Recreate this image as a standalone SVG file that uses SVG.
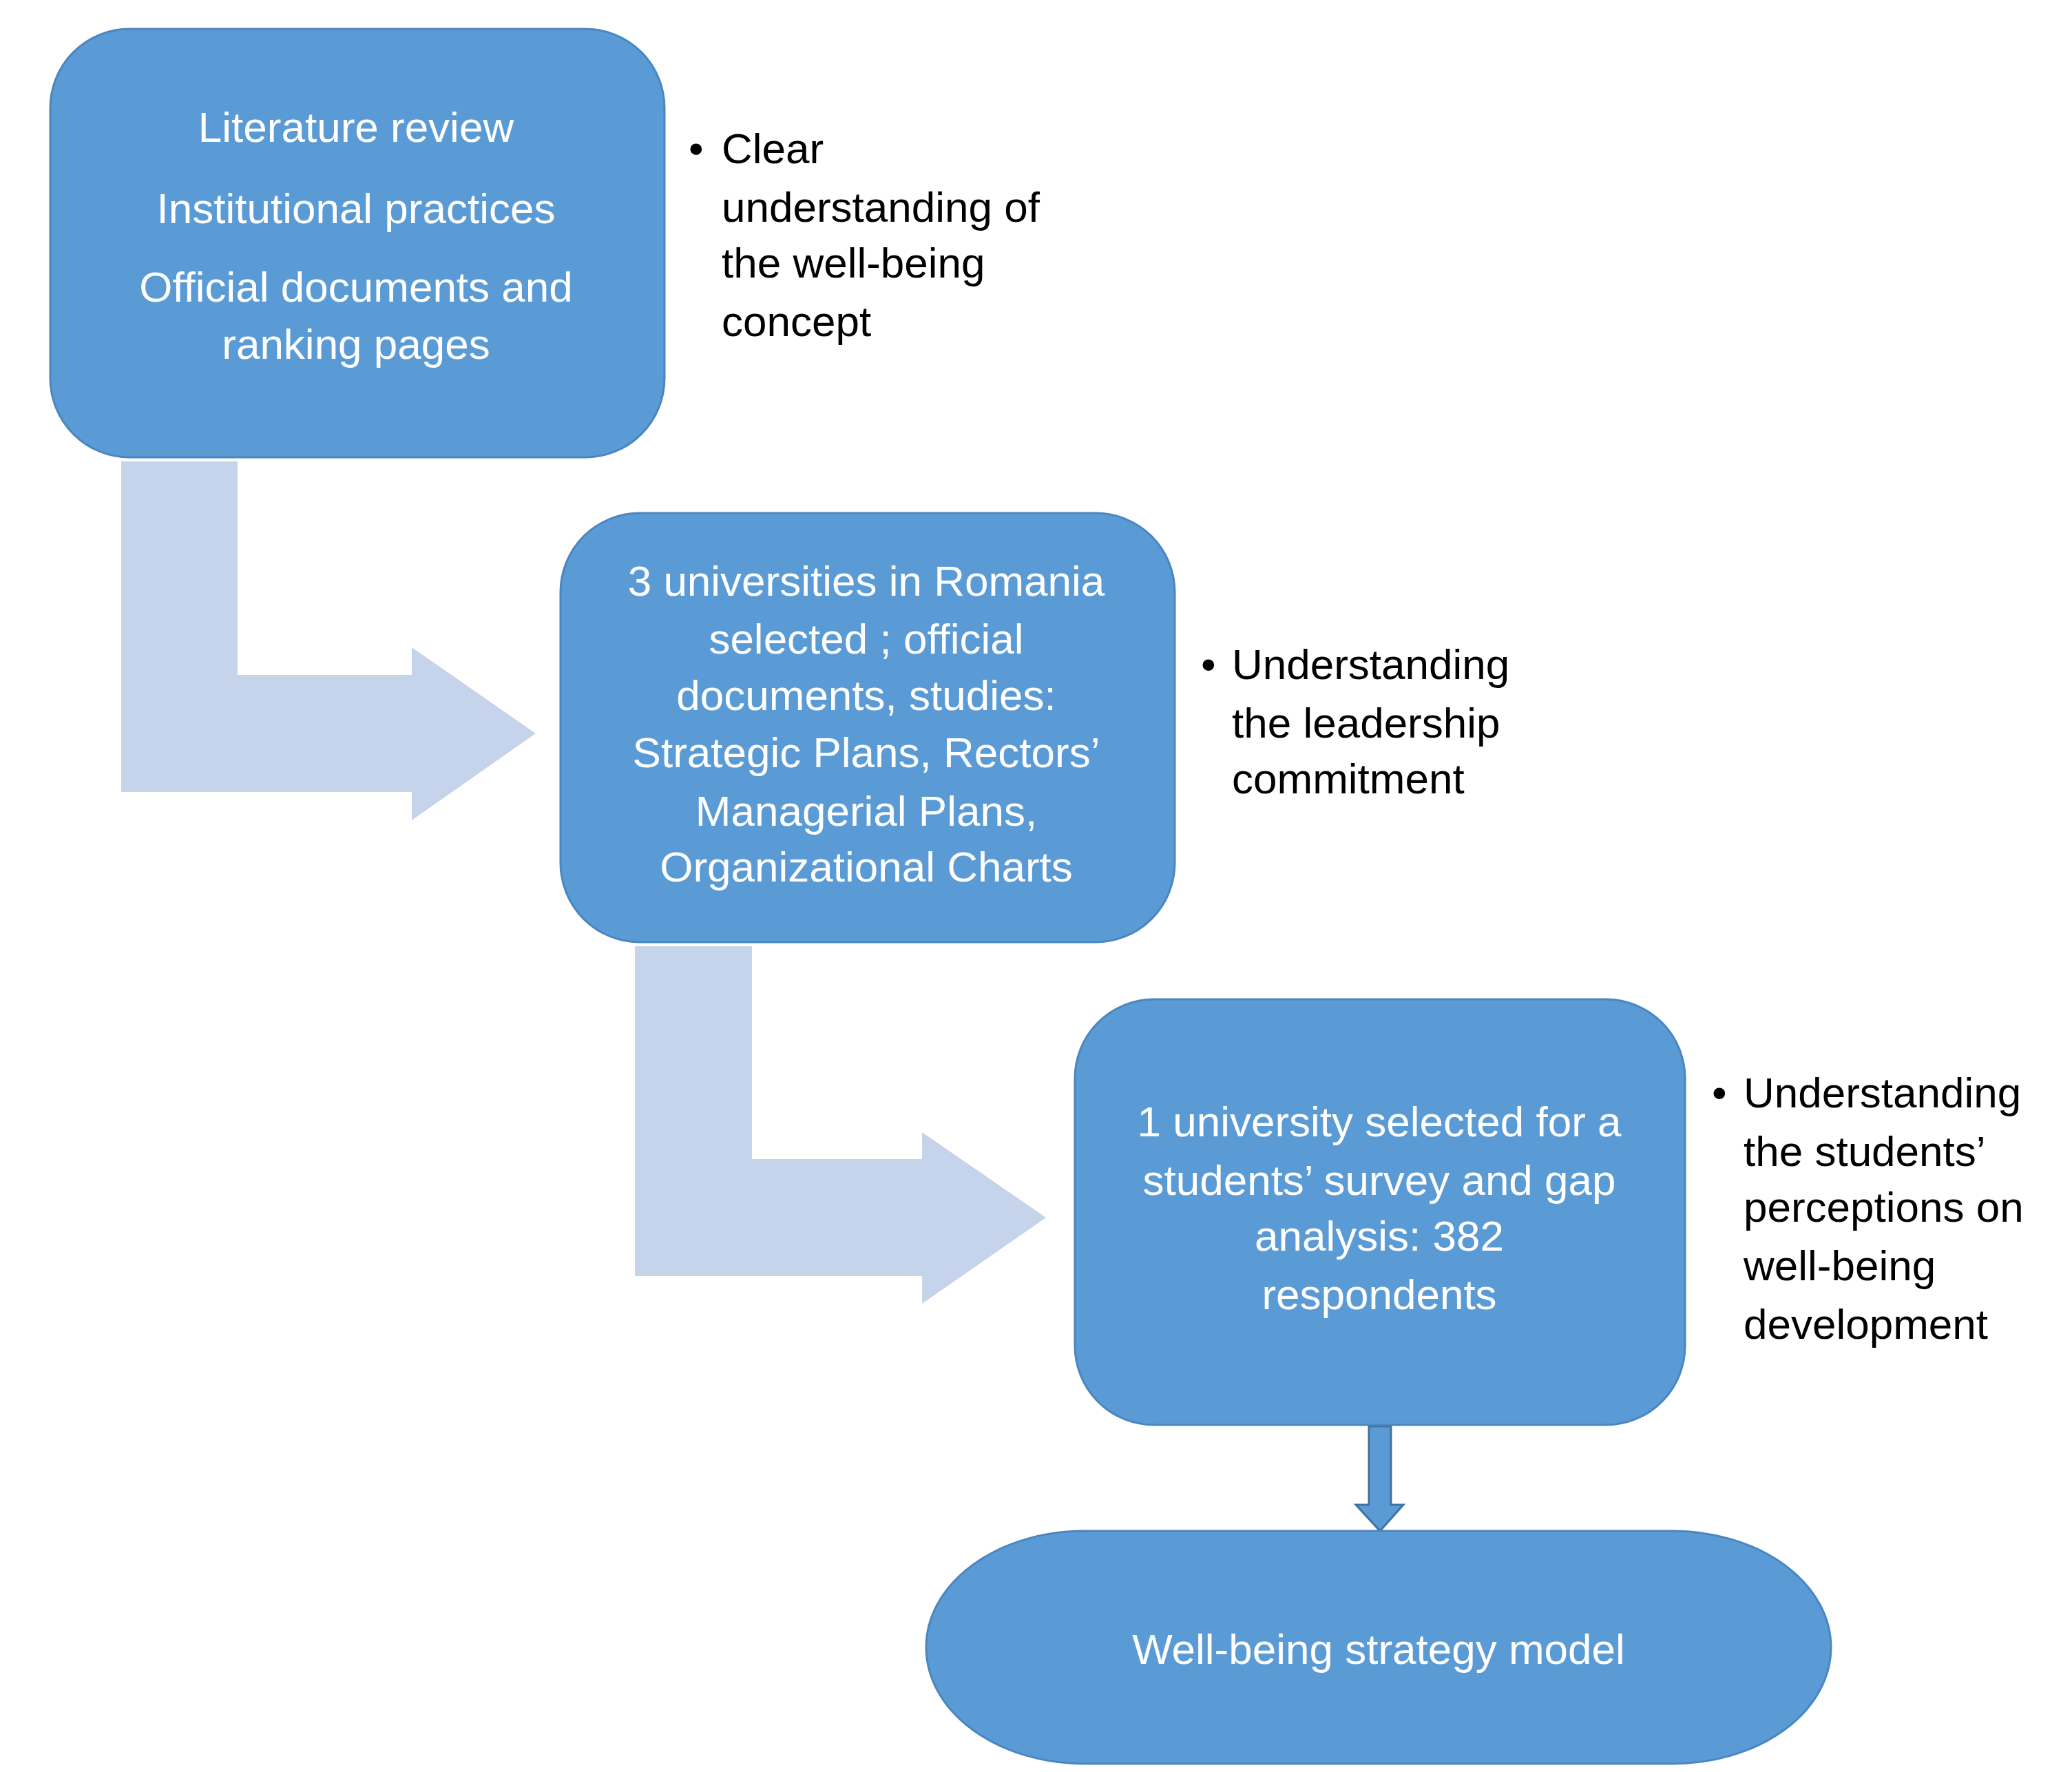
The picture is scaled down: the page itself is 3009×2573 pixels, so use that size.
<svg xmlns="http://www.w3.org/2000/svg" width="3009" height="2573" viewBox="0 0 3009 2573">
<style>
.box{fill:#5B9BD5;stroke:#4A86C0;stroke-width:3}
.arr{fill:#C5D4EA}
.w{font-family:"Liberation Sans",Arial,sans-serif;font-size:62px;fill:#fff;text-anchor:middle}
.b{font-family:"Liberation Sans",Arial,sans-serif;font-size:62px;fill:#000}
</style>
<rect width="3009" height="2573" fill="#fff"/>
<g id="connectors">
<path class="arr" d="M176 670H345V980H598V940L778 1065L598 1191V1150H176Z"/>
<path class="arr" d="M922 1374H1092V1683H1339V1644L1519 1768L1339 1893V1853H922Z"/>
<path d="M1988 2071H2020V2185H2038L2004 2223L1969 2185H1988Z" fill="#5B9BD5" stroke="#41719C" stroke-width="3"/>
</g>
<g id="n1">
<rect class="box" x="73" y="42" width="892" height="622" rx="115"/>
<text class="w" x="517" y="206">Literature review</text>
<text class="w" x="517" y="324">Institutional practices</text>
<text class="w" x="517" y="438">Official documents and</text>
<text class="w" x="517" y="521">ranking pages</text>
</g>
<g id="t1">
<text class="b" x="1000" y="237">•</text>
<text class="b" x="1048" y="237">Clear</text>
<text class="b" x="1048" y="322">understanding of</text>
<text class="b" x="1048" y="403">the well-being</text>
<text class="b" x="1048" y="488">concept</text>
</g>
<g id="n2">
<rect class="box" x="814" y="745" width="892" height="623" rx="115"/>
<text class="w" x="1258" y="865">3 universities in Romania</text>
<text class="w" x="1258" y="949">selected ; official</text>
<text class="w" x="1258" y="1031">documents, studies:</text>
<text class="w" x="1258" y="1114">Strategic Plans, Rectors’</text>
<text class="w" x="1258" y="1199">Managerial Plans,</text>
<text class="w" x="1258" y="1280">Organizational Charts</text>
</g>
<g id="t2">
<text class="b" x="1744" y="986">•</text>
<text class="b" x="1789" y="986">Understanding</text>
<text class="b" x="1789" y="1071">the leadership</text>
<text class="b" x="1789" y="1152">commitment</text>
</g>
<g id="n3">
<rect class="box" x="1561" y="1451" width="886" height="618" rx="115"/>
<text class="w" x="2003" y="1650">1 university selected for a</text>
<text class="w" x="2003" y="1735">students’ survey and gap</text>
<text class="w" x="2003" y="1816">analysis: 382</text>
<text class="w" x="2003" y="1901">respondents</text>
</g>
<g id="t3">
<text class="b" x="2486" y="1608">•</text>
<text class="b" x="2532" y="1608">Understanding</text>
<text class="b" x="2532" y="1693">the students’</text>
<text class="b" x="2532" y="1774">perceptions on</text>
<text class="b" x="2532" y="1859">well-being</text>
<text class="b" x="2532" y="1944">development</text>
</g>
<g id="n4">
<rect class="box" x="1345" y="2223" width="1314" height="338" rx="230" ry="169"/>
<text class="w" x="2002" y="2416">Well-being strategy model</text>
</g>
</svg>
